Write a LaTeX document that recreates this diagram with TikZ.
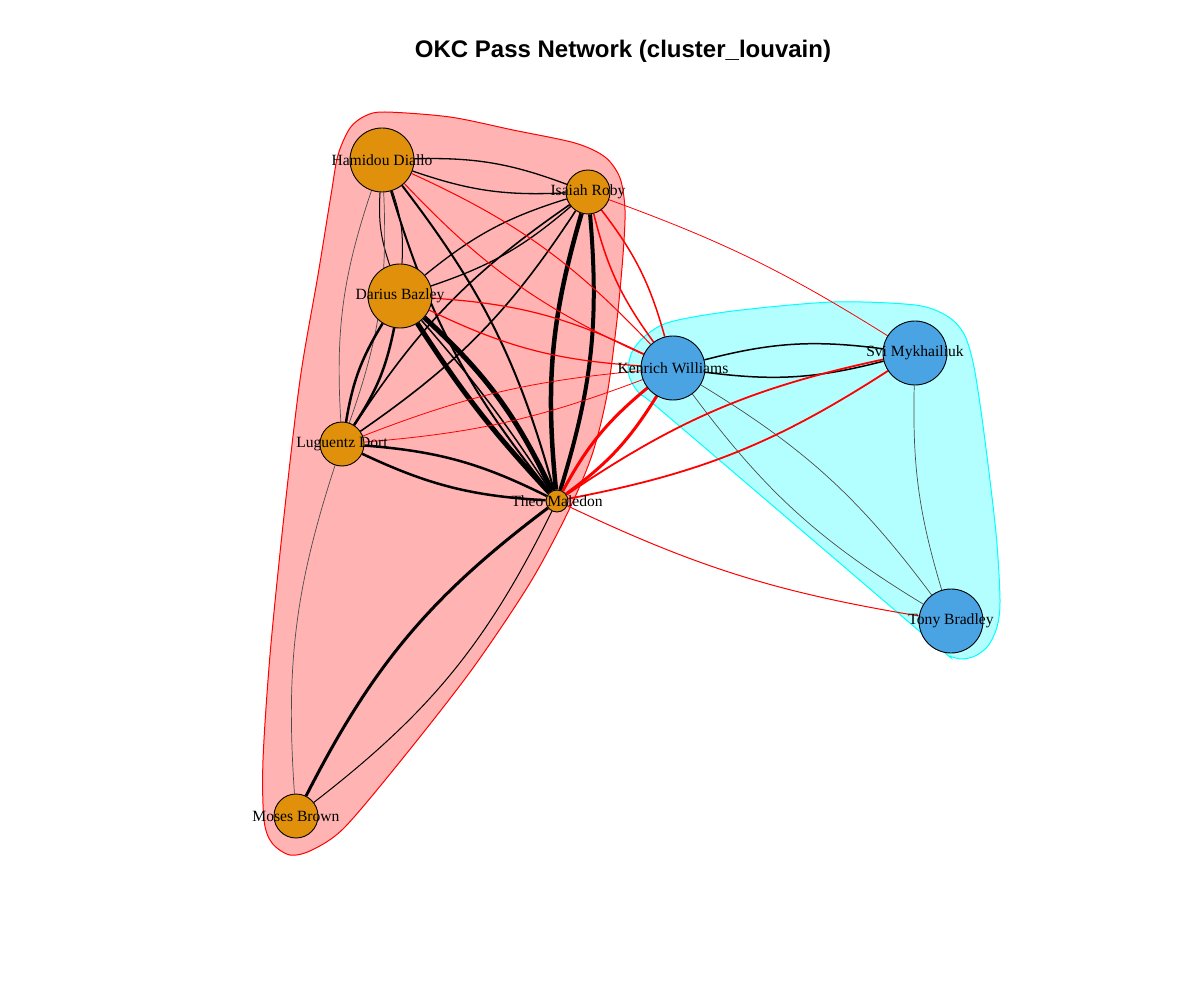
\documentclass[tikz,border=0pt]{standalone}
\usepackage{fontspec}
\setmainfont{Liberation Serif}
\newfontfamily\titlefont{Liberation Sans}
\pgfdeclarelayer{hulls}
\pgfdeclarelayer{vertices}
\pgfsetlayers{hulls,main,vertices}
\definecolor{vorange}{HTML}{E0900A}
\definecolor{vblue}{HTML}{4AA3E2}
\definecolor{hullred}{HTML}{FFB3B3}
\definecolor{hullcyan}{HTML}{B3FFFF}
\definecolor{purered}{RGB}{255,0,0}
\definecolor{purecyan}{RGB}{0,255,255}
\tikzset{
  vx/.style={circle, draw=black, line width=0.9pt, inner sep=0pt, minimum size=#1pt},
  lab/.style={inner sep=0pt, font=\fontsize{15.6}{18}\selectfont},
  bk/.style={draw=black, line width=#1pt},
  rd/.style={draw=purered, line width=#1pt},
  gr/.style={draw=black!70, line width=0.7pt},
}
\begin{document}
\begin{tikzpicture}[x=1pt,y=-1pt]
\useasboundingbox (0,0) rectangle (1200,1000);

% community hulls
\begin{pgfonlayer}{hulls}
\fill[white] (0,0) rectangle (1200,1000);
\filldraw[fill=hullred, draw=purered, line width=1pt]
  plot[smooth cycle, tension=0.5] coordinates {
  (385,112) (450,117) (513,130) (575,143) (605,157) (620,178) (625,210)
  (623,255) (617,320) (607,395) (592,455) (568,512) (530,583) (473,668)
  (407,753) (345,827) (312,850) (290,855) (272,843) (264,820) (263,760)
  (270,655) (283,525) (300,380) (318,275) (331,195) (338,155) (350,128)
  (365,116)};
\filldraw[fill=hullcyan, draw=purecyan, line width=1pt]
  plot[smooth cycle, tension=0.5] coordinates {
  (632,383) (628,370) (632,352) (645,336) (670,322) (733,311) (833,302)
  (915,305) (947,316) (964,334) (974,367) (984,433) (996,533) (1000,600)
  (997,627) (988,646) (975,656) (962,659) (950,656) (938,647) (800,529)
  (657,407) (641,395)};
\end{pgfonlayer}

% players
\begin{pgfonlayer}{vertices}
\node[vx=64, fill=vorange] (H) at (382,160) {};
\node[vx=44, fill=vorange] (I) at (588,192) {};
\node[vx=64, fill=vorange] (D) at (400,296) {};
\node[vx=44, fill=vorange] (L) at (342,444) {};
\node[vx=22, fill=vorange] (T) at (557,501) {};
\node[vx=44, fill=vorange] (M) at (296,816) {};
\node[vx=64, fill=vblue] (K) at (673,368) {};
\node[vx=64, fill=vblue] (S) at (915,353) {};
\node[vx=64, fill=vblue] (B) at (951,621) {};
\node[lab] (Hl) at (H) {Hamidou Diallo};
\node[lab] (Il) at (I) {Isaiah Roby};
\node[lab] (Dl) at (D) {Darius Bazley};
\node[lab] (Ll) at (L) {Luguentz Dort};
\node[lab] (Tl) at (T) {Theo Maledon};
\node[lab] (Ml) at (M) {Moses Brown};
\node[lab] (Kl) at (K) {Kenrich Williams};
\node[lab] (Sl) at (S) {Svi Mykhailiuk};
\node[lab] (Bl) at (B) {Tony Bradley};
\end{pgfonlayer}

\node[font=\titlefont\bfseries\fontsize{24}{28}\selectfont, anchor=base] (title) at (623,58) {OKC Pass Network (cluster\_louvain)};

% passes inside the first community
\draw[bk=1.3] (H) to[bend left=11] (I);
\draw[bk=1.3] (H) to[bend right=11] (I);
\draw[bk=1] (H) to[bend left=11] (D);
\draw[bk=1] (H) to[bend right=11] (D);
\draw[gr] (H) to[bend left=11] (L);
\draw[gr] (H) to[bend right=11] (L);
\draw[bk=2] (H) to[bend left=11] (T);
\draw[bk=2] (H) to[bend right=11] (T);
\draw[bk=1.3] (I) to[bend left=11] (D);
\draw[bk=1.3] (I) to[bend right=11] (D);
\draw[bk=1.6] (I) to[bend left=11] (L);
\draw[bk=1.6] (I) to[bend right=11] (L);
\draw[bk=4] (I) to[bend left=11] (T);
\draw[bk=4.5] (I) to[bend right=11] (T);
\draw[bk=2.5] (D) to[bend left=11] (L);
\draw[bk=2.5] (D) to[bend right=11] (L);
\draw[bk=5] (D) to[bend right=5] (T);
\draw[bk=5] (D) to[bend left=11] (T);
\draw[bk=1.5] (D) to[bend left=4] (T);
\draw[bk=2.5] (L) to[bend left=11] (T);
\draw[bk=2.5] (L) to[bend right=11] (T);
\draw[gr] (L) to[bend right=11] (M);
\draw[bk=3] (T) to[bend right=13] (M);
\draw[bk=1] (T) to[bend left=13] (M);

% passes inside the second community
\draw[bk=1.5] (K) to[bend left=11] (S);
\draw[bk=1.5] (K) to[bend right=11] (S);
\draw[gr] (K) to[bend left=11] (B);
\draw[gr] (K) to[bend right=11] (B);
\draw[gr] (S) to[bend right=9] (B);

% passes between communities
\draw[rd=1] (H) to[bend left=11] (K);
\draw[rd=1] (H) to[bend right=11] (K);
\draw[rd=1.5] (I) to[bend left=11] (K);
\draw[rd=1.5] (I) to[bend right=11] (K);
\draw[rd=0.8] (I) to[bend left=6] (S);
\draw[rd=1.2] (D) to[bend left=11] (K);
\draw[rd=1.2] (D) to[bend right=11] (K);
\draw[rd=0.8] (L) to[bend left=8] (K);
\draw[rd=0.8] (L) to[bend right=8] (K);
\draw[rd=3] (T) to[bend left=11] (K);
\draw[rd=3] (T) to[bend right=11] (K);
\draw[rd=1.8] (T) to[bend left=11] (S);
\draw[rd=1.8] (T) to[bend right=11] (S);
\draw[rd=1] (T) to[bend right=8] (B);
\end{tikzpicture}
\end{document}
